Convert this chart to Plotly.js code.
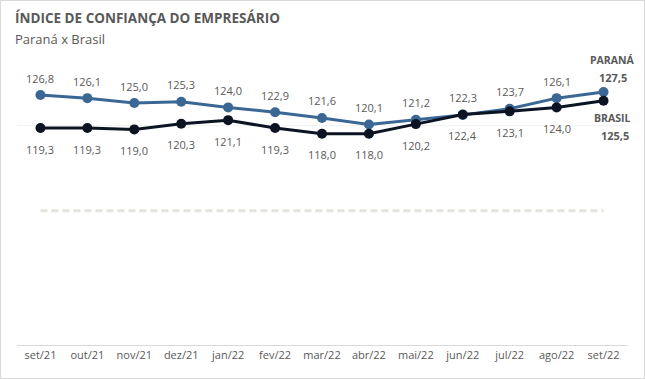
<!DOCTYPE html>
<html><head><meta charset="utf-8">
<script src="https://cdn.plot.ly/plotly-3.0.1.min.js"></script>
<style>html,body{margin:0;padding:0;background:#fff}#c{width:645px;height:379px;box-sizing:border-box;border:1px solid #d9d9d9}</style>
</head><body><div id="c"></div>
<script>
const months = ["set/21","out/21","nov/21","dez/21","jan/22","fev/22","mar/22","abr/22","mai/22","jun/22","jul/22","ago/22","set/22"];
const parana = [126.8,126.1,125.0,125.3,124.0,122.9,121.6,120.1,121.2,122.3,123.7,126.1,127.5];
const brasil = [119.3,119.3,119.0,120.3,121.1,119.3,118.0,118.0,120.2,122.4,123.1,124.0,125.5];
const refLevel = 100.5;

const fmt = v => v.toFixed(1).replace('.', ',');
const gray = '#595959';
const fontF = '"Open Sans", "Noto Sans", sans-serif';
const cPR = '#3b6794', cBR = '#0c1424';

const traces = [
  {x: months, y: months.map(() => refLevel), mode: 'lines', line: {color: '#e4e4dc', width: 3, dash: '7px,4px'}, hoverinfo: 'skip', showlegend: false},
  {x: months, y: parana, mode: 'lines+markers', line: {color: cPR, width: 3}, marker: {color: cPR, size: 10}, showlegend: false},
  {x: months, y: brasil, mode: 'lines+markers', line: {color: cBR, width: 3}, marker: {color: cBR, size: 10}, showlegend: false}
];

const ann = [];
const n = months.length;
for (let i = 0; i < n - 1; i++) {
  ann.push({x: months[i], y: parana[i], text: fmt(parana[i]), showarrow: false, yshift: 17, font: {size: 11, color: gray, family: fontF}});
  ann.push({x: months[i], y: brasil[i], text: fmt(brasil[i]), showarrow: false, yshift: -21, font: {size: 11, color: gray, family: fontF}});
}
const last = n - 1;
ann.push({x: months[last], y: parana[last], text: '<b>PARANÁ</b>', showarrow: false, yshift: 32, xshift: 9, font: {size: 10.5, color: gray, family: fontF}});
ann.push({x: months[last], y: parana[last], text: '<b>' + fmt(parana[last]) + '</b>', showarrow: false, yshift: 15, xshift: 9, font: {size: 11, color: gray, family: fontF}});
ann.push({x: months[last], y: brasil[last], text: '<b>BRASIL</b>', showarrow: false, yshift: -17, xshift: 8, font: {size: 10.5, color: gray, family: fontF}});
ann.push({x: months[last], y: brasil[last], text: '<b>' + fmt(brasil[last]) + '</b>', showarrow: false, yshift: -35, xshift: 11, font: {size: 11, color: gray, family: fontF}});

ann.push({xref: 'paper', yref: 'paper', x: -0.006, y: 1, xanchor: 'left', yanchor: 'middle', yshift: 19, text: '<b>ÍNDICE DE CONFIANÇA DO EMPRESÁRIO</b>', showarrow: false, font: {size: 13.5, color: gray, family: fontF}});
ann.push({xref: 'paper', yref: 'paper', x: -0.006, y: 1, xanchor: 'left', yanchor: 'middle', yshift: -2, text: 'Paraná x Brasil', showarrow: false, font: {size: 13, color: gray, family: fontF}});

const layout = {
  width: 645, height: 379,
  margin: {l: 16, r: 19, t: 36, b: 35},
  paper_bgcolor: 'rgba(0,0,0,0)', plot_bgcolor: '#fff',
  font: {family: fontF, color: gray},
  xaxis: {type: 'category', range: [-0.5, 12.5], showgrid: false, zeroline: false, showline: true, linecolor: '#d9d9d9', linewidth: 1, ticks: '', tickfont: {size: 11, color: gray, family: fontF}, fixedrange: true},
  yaxis: {range: [70, 140], tickvals: [70, 120], showticklabels: false, showgrid: true, gridcolor: '#f2f2f2', zeroline: false, showline: false, fixedrange: true},
  annotations: ann,
  showlegend: false
};
Plotly.newPlot('c', traces, layout, {displayModeBar: false, staticPlot: true});
</script></body></html>
